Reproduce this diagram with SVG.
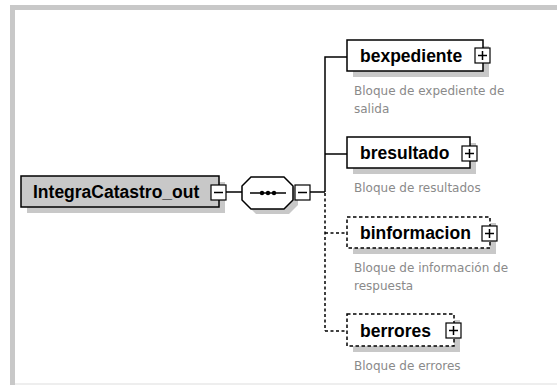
<svg xmlns="http://www.w3.org/2000/svg" width="557" height="385" viewBox="0 0 557 385">
<defs>
<style>
.frame{fill:#c8c8c8}
.shadow{fill:#c8c8c8}
.box{fill:#fff;stroke:#000;stroke-width:1.5}
.dbox{fill:#fff;stroke:#000;stroke-width:1.5;stroke-dasharray:3.5,2.5}
.root{fill:#c8c8c8;stroke:#000;stroke-width:1.5}
.name{font-family:"Liberation Sans",Arial,sans-serif;font-weight:bold;font-size:17.5px;fill:#000}
.desc{font-family:"DejaVu Sans",Verdana,sans-serif;font-size:12px;fill:#8a8a8a}
.ln{stroke:#000;stroke-width:1.5;fill:none}
.dl{stroke:#000;stroke-width:1.5;fill:none;stroke-dasharray:3,2.5}
.pm{fill:#fff;stroke:#000;stroke-width:1.2}
</style>
</defs>
<rect x="0" y="0" width="557" height="385" fill="#fff"/>
<rect class="frame" x="10" y="5" width="547" height="5"/>
<rect class="frame" x="10" y="5" width="5" height="380"/>
<rect x="15" y="383" width="542" height="2" fill="#eeeeee"/>

<g id="connectors">
<line class="ln" x1="226" y1="192" x2="243" y2="192"/>
<line class="ln" x1="310" y1="192" x2="325" y2="192"/>
<polyline class="ln" points="347,57 325,57 325,192"/>
<line class="ln" x1="325" y1="154" x2="347" y2="154"/>
<line class="dl" x1="325" y1="193" x2="325" y2="331"/>
<line class="dl" x1="325" y1="233" x2="347" y2="233"/>
<line class="dl" x1="325" y1="331" x2="347" y2="331"/>
</g>

<g id="root">
<rect class="shadow" x="27" y="182" width="198" height="31"/>
<rect class="root" x="21" y="176" width="198" height="31"/>
<text class="name" x="33" y="198">IntegraCatastro_out</text>
<rect class="pm" x="211" y="185" width="15" height="15"/>
<line class="ln" x1="214" y1="192.5" x2="223" y2="192.5"/>
</g>

<g id="sequence">
<path class="shadow" d="M256,182 L289,182 L298,191 L298,205 L289,214 L256,214 L247,205 L247,191 Z"/>
<path class="box" d="M251,177 L284,177 L293,186 L293,200 L284,209 L251,209 L242,200 L242,186 Z"/>
<line class="ln" x1="250" y1="193" x2="286" y2="193"/>
<circle cx="262" cy="193" r="2.2" fill="#000"/>
<circle cx="268" cy="193" r="2.2" fill="#000"/>
<circle cx="274" cy="193" r="2.2" fill="#000"/>
<rect class="pm" x="295" y="185" width="15" height="15"/>
<line class="ln" x1="298" y1="192.5" x2="307" y2="192.5"/>
</g>

<g id="bexpediente">
<rect class="shadow" x="353" y="46" width="136" height="31"/>
<rect class="box" x="347" y="40" width="136" height="31"/>
<text class="name" x="360" y="62">bexpediente</text>
<rect class="pm" x="475" y="48" width="15" height="15"/>
<line class="ln" x1="478" y1="55.5" x2="487" y2="55.5"/>
<line class="ln" x1="482.5" y1="51" x2="482.5" y2="60"/>
<text class="desc" x="354" y="95">Bloque de expediente de</text>
<text class="desc" x="354" y="113">salida</text>
</g>

<g id="bresultado">
<rect class="shadow" x="353" y="143" width="123" height="31"/>
<rect class="box" x="347" y="137" width="123" height="31"/>
<text class="name" x="360" y="159">bresultado</text>
<rect class="pm" x="462" y="146" width="15" height="15"/>
<line class="ln" x1="465" y1="153.5" x2="474" y2="153.5"/>
<line class="ln" x1="469.5" y1="149" x2="469.5" y2="158"/>
<text class="desc" x="354" y="192">Bloque de resultados</text>
</g>

<g id="binformacion">
<rect class="shadow" x="353" y="223" width="143" height="31"/>
<rect class="dbox" x="347" y="217" width="143" height="31"/>
<text class="name" x="360" y="239">binformacion</text>
<rect class="pm" x="482" y="226" width="15" height="15"/>
<line class="ln" x1="485" y1="233.5" x2="494" y2="233.5"/>
<line class="ln" x1="489.5" y1="229" x2="489.5" y2="238"/>
<text class="desc" x="354" y="272">Bloque de información de</text>
<text class="desc" x="354" y="290">respuesta</text>
</g>

<g id="berrores">
<rect class="shadow" x="353" y="320" width="107" height="32"/>
<rect class="dbox" x="347" y="314" width="107" height="32"/>
<text class="name" x="360" y="337">berrores</text>
<rect class="pm" x="446" y="323" width="15" height="15"/>
<line class="ln" x1="449" y1="330.5" x2="458" y2="330.5"/>
<line class="ln" x1="453.5" y1="326" x2="453.5" y2="335"/>
<text class="desc" x="354" y="370">Bloque de errores</text>
</g>
</svg>
